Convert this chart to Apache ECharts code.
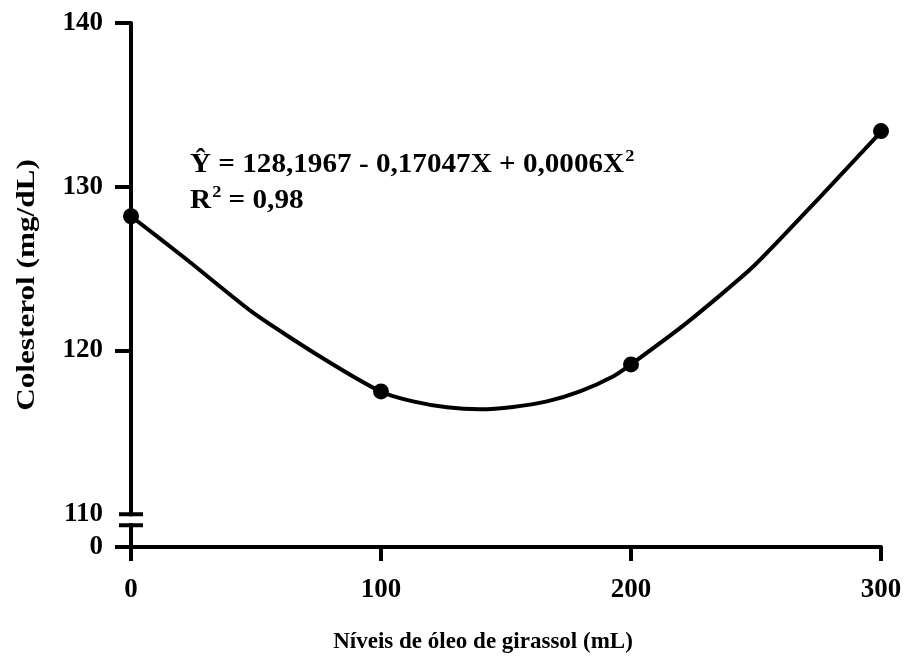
<!DOCTYPE html>
<html>
<head>
<meta charset="utf-8">
<script src="https://cdn.jsdelivr.net/npm/echarts@6/dist/echarts.min.js"></script>
<style>
  html, body { margin: 0; padding: 0; background: #fff; }
  #echart { width: 907px; height: 660px; }
</style>
</head>
<body>
<div id="echart"></div>
<script>
var myChart = echarts.init(document.getElementById("echart"));

// observed means
var pointX = [0, 100, 200, 300];
var pointY = [128.2, 117.5, 119.15, 133.4];

// fitted curve at several places
var curveX = [0, 22.4, 48.8, 75.6, 100, 112.8, 126.4, 139.6, 152.8, 166.4, 179.6, 192.8, 200, 222.4, 248.8, 275.6, 300];
var curveY = [128.2, 125.54, 122.31, 119.63, 117.48, 116.89, 116.53, 116.41, 116.55, 116.89, 117.5, 118.41, 119.15, 121.7, 125.11, 129.37, 133.35];

var yLabelValues = [108, 110, 120, 130, 140];   // 108 stands for the broken "0"
var yTickValues = [108, 120, 130, 140];
var equationText = '{n|Ŷ = 128,1967 - 0,17047X + 0,0006X}{s|2}\n{n|R}{s|2}{n| = 0,98}';
var xTitle = 'Níveis de óleo de girassol (mL)';
var yTitle = 'Colesterol (mg/dL)';

var font = 'Liberation Serif';

var curveData = [];
for (var i = 0; i < curveX.length; i++) curveData.push([curveX[i], curveY[i]]);
var pointData = [];
for (var j = 0; j < pointX.length; j++) pointData.push([pointX[j], pointY[j]]);

option = {
	animation: false,
	grid: { left: 131, right: 26, top: 23, bottom: 113 },
	xAxis: {
		type: 'value',
		min: 0, max: 300, interval: 100,
		name: xTitle,
		nameLocation: 'middle',
		nameGap: 84,
		nameTextStyle: { fontFamily: font, fontWeight: 'bold', fontSize: 23, color: '#000', padding: [0, 46, 0, 0] },
		axisLine: { onZero: false, lineStyle: { color: '#000', width: 4 } },
		axisTick: { length: 14, lineStyle: { color: '#000', width: 4 } },
		axisLabel: { margin: 30, fontFamily: font, fontWeight: 'bold', fontSize: 27, color: '#000' },
		splitLine: { show: false }
	},
	yAxis: {
		type: 'value',
		min: 108, max: 140,
		axisLine: { lineStyle: { color: '#000', width: 4 } },
		axisTick: { length: 16, customValues: yTickValues, lineStyle: { color: '#000', width: 4 } },
		axisLabel: {
			customValues: yLabelValues,
			margin: 28, fontFamily: font, fontWeight: 'bold', fontSize: 27, color: '#000',
			formatter: function (v) { return v === 108 ? '0' : String(v); }
		},
		splitLine: { show: false }
	},
	series: [{
		type: 'line',
		data: curveData,
		smooth: 0.2,
		showSymbol: false,
		lineStyle: { color: '#000', width: 4 },
		z: 2
	}, {
		type: 'scatter',
		data: pointData,
		symbolSize: 16,
		itemStyle: { color: '#000', opacity: 1 },
		z: 3
	}]
};

myChart.setOption(option);

// axis break marks between 0 and 110, y title, equation
var ax = myChart.convertToPixel({ xAxisIndex: 0 }, 0);
var yTop = myChart.convertToPixel({ yAxisIndex: 0 }, 110);
var yBot = yTop + 11;
var yMid = (myChart.convertToPixel({ yAxisIndex: 0 }, 140) + myChart.convertToPixel({ yAxisIndex: 0 }, 108)) / 2;
myChart.setOption({
	graphic: [
		{ type: 'rect', shape: { x: ax - 4, y: yTop + 2, width: 8, height: yBot - yTop - 4 }, style: { fill: '#fff' }, z: 100 },
		{ type: 'line', shape: { x1: ax - 12, y1: yTop, x2: ax + 12, y2: yTop }, style: { stroke: '#000', lineWidth: 4 }, z: 101 },
		{ type: 'line', shape: { x1: ax - 12, y1: yBot, x2: ax + 12, y2: yBot }, style: { stroke: '#000', lineWidth: 4 }, z: 101 },
		{ type: 'text', x: 27, y: yMid, rotation: Math.PI / 2, scaleX: 1.2, z: 101,
		  style: { text: yTitle, font: 'bold 26px "Liberation Serif"', fill: '#000', textAlign: 'center', textVerticalAlign: 'middle' } },
		{ type: 'text', x: 190, y: 147, scaleX: 1.08, z: 101,
		  style: {
			text: equationText, fill: '#000', textVerticalAlign: 'top',
			rich: {
				n: { fontFamily: font, fontWeight: 'bold', fontSize: 27, lineHeight: 36, fill: '#000' },
				s: { fontFamily: font, fontWeight: 'bold', fontSize: 17, lineHeight: 36, verticalAlign: 'top', padding: [1, 0, 0, 1], fill: '#000' }
			}
		  } }
	]
});
</script>
</body>
</html>
